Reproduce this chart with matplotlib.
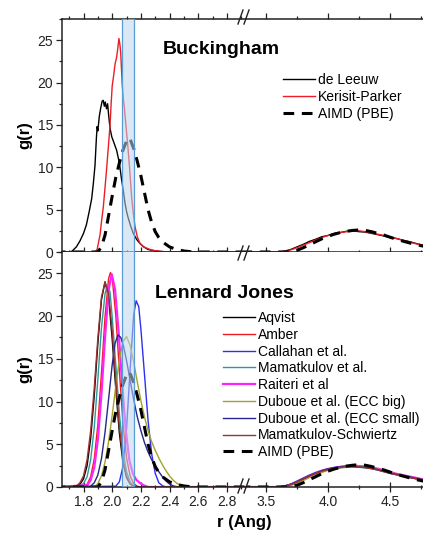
import matplotlib
matplotlib.use("Agg")
import matplotlib.pyplot as plt
import matplotlib.ticker as ticker
from matplotlib.lines import Line2D

plt.rcParams['font.family'] = ['Liberation Sans', 'DejaVu Sans']

# ---- first coordination shell, Buckingham models ----
deleeuw_r = [1.70, 1.72, 1.75, 1.775, 1.80, 1.82, 1.84, 1.857, 1.868, 1.88, 1.89, 1.895,
             1.90, 1.91, 1.92, 1.93, 1.938, 1.945, 1.952, 1.96, 1.968, 1.975, 1.985,
             1.997, 2.01, 2.031, 2.045, 2.054, 2.065, 2.077, 2.089, 2.10, 2.112, 2.13,
             2.147, 2.17, 2.194, 2.22, 2.25, 2.30, 2.35, 2.40]
deleeuw_g = [0, 0.1, 0.6, 1.3, 2.2, 3.2, 4.8, 6.3, 8.0, 10.2, 13.5, 14.8,
             14.3, 16.0, 17.0, 17.8, 17.9, 17.2, 17.7, 16.9, 17.5, 16.2, 14.6,
             13.6, 13.0, 12.0, 10.9, 10.0, 8.6, 7.3, 5.8, 4.8, 4.0, 3.0,
             2.2, 1.5, 1.0, 0.6, 0.3, 0.12, 0.05, 0]

kp_r = [1.88, 1.895, 1.915, 1.927, 1.938, 1.95, 1.962, 1.975, 1.985, 1.993, 2.0, 2.01,
        2.02, 2.03, 2.038, 2.047, 2.053, 2.059, 2.065, 2.07, 2.078, 2.085, 2.092, 2.101,
        2.11, 2.12, 2.128, 2.136, 2.147, 2.159, 2.175, 2.194, 2.22, 2.264, 2.30, 2.35, 2.40]
kp_g = [0, 0.3, 2.0, 3.8, 5.3, 7.6, 10.0, 12.8, 15.0, 17.6, 19.6, 20.8,
        22.2, 22.9, 23.9, 25.2, 24.6, 23.6, 21.5, 19.8, 18.0, 17.0, 15.6, 14.0,
        12.3, 10.2, 8.3, 6.4, 4.6, 3.0, 1.8, 1.0, 0.6, 0.3, 0.15, 0.05, 0]

aimd_r = [1.90, 1.925, 1.95, 1.975, 2.0, 2.025, 2.05, 2.075, 2.10, 2.115, 2.13, 2.15,
          2.175, 2.20, 2.225, 2.25, 2.275, 2.30, 2.325, 2.35, 2.40, 2.45, 2.50, 2.55, 2.60]
aimd_g = [0, 0.6, 2.0, 4.3, 6.6, 8.8, 10.5, 12.0, 13.1, 13.5, 13.1, 12.2,
          10.7, 9.0, 7.0, 5.0, 3.5, 2.4, 1.7, 1.2, 0.6, 0.3, 0.12, 0.03, 0]

# ---- first coordination shell, Lennard-Jones models ----
aqvist_r = [1.75, 1.775, 1.80, 1.825, 1.85, 1.875, 1.90, 1.925, 1.95, 1.975, 2.0, 2.025,
            2.05, 2.075, 2.10, 2.125, 2.15, 2.175]
aqvist_g = [0.05, 0.3, 0.95, 2.5, 5.7, 10.7, 16.8, 21.9, 24.0, 22.2, 17.3, 11.5,
            6.3, 2.9, 1.1, 0.35, 0.1, 0]

amber_r = [1.80, 1.825, 1.85, 1.875, 1.90, 1.925, 1.95, 1.975, 1.988, 2.0, 2.025, 2.05,
           2.075, 2.10, 2.125, 2.15, 2.175, 2.20]
amber_g = [0.07, 0.3, 1.2, 3.3, 7.3, 13.3, 19.9, 24.4, 25.1, 24.5, 20.1, 13.6,
           7.5, 3.4, 1.3, 0.4, 0.1, 0]

callahan_r = [2.025, 2.05, 2.075, 2.10, 2.125, 2.15, 2.167, 2.185, 2.20, 2.225, 2.25,
              2.275, 2.30, 2.325, 2.35, 2.375]
callahan_g = [0.1, 0.6, 2.4, 6.8, 13.8, 20.2, 21.8, 21.1, 18.5, 13.2, 7.8,
              3.9, 1.6, 0.5, 0.15, 0]

mamat_r = [1.775, 1.80, 1.825, 1.85, 1.875, 1.90, 1.925, 1.95, 1.966, 1.985, 2.0, 2.025,
           2.05, 2.075, 2.10, 2.125, 2.15, 2.175]
mamat_g = [0.1, 0.4, 1.2, 3.2, 7.0, 12.6, 18.6, 22.6, 23.6, 22.8, 19.9, 14.3,
           8.6, 4.3, 1.8, 0.6, 0.15, 0]

raiteri_r = [1.825, 1.85, 1.875, 1.90, 1.925, 1.95, 1.975, 1.997, 2.02, 2.045, 2.07,
             2.095, 2.12, 2.145, 2.17, 2.195, 2.22, 2.25]
raiteri_g = [0.2, 0.8, 2.3, 5.5, 10.9, 17.5, 23.1, 24.9, 23.1, 18.1, 11.9,
             6.6, 3.1, 1.5, 0.8, 0.45, 0.2, 0]

eccbig_r = [1.875, 1.90, 1.925, 1.95, 1.975, 2.0, 2.025, 2.05, 2.075, 2.10, 2.125, 2.15,
            2.175, 2.20, 2.225, 2.25, 2.275, 2.30, 2.325, 2.35, 2.375, 2.40, 2.425,
            2.45, 2.475, 2.50]
eccbig_g = [0, 0.4, 1.3, 2.9, 5.3, 8.4, 11.8, 14.9, 17.0, 17.6, 16.6, 14.6,
            12.3, 10.1, 8.2, 6.6, 5.3, 4.3, 3.4, 2.6, 1.9, 1.3, 0.8,
            0.45, 0.2, 0]

eccsmall_r = [1.85, 1.875, 1.90, 1.925, 1.95, 1.975, 2.0, 2.02, 2.04, 2.06, 2.08, 2.10,
              2.125, 2.15, 2.175, 2.20, 2.225, 2.25, 2.275, 2.30, 2.325, 2.35, 2.375,
              2.40, 2.43, 2.46]
eccsmall_g = [0.1, 0.5, 1.4, 3.3, 6.4, 10.3, 14.3, 16.8, 17.8, 17.5, 16.4, 14.8,
              12.5, 10.2, 8.2, 6.6, 5.2, 4.1, 3.2, 2.4, 1.8, 1.2, 0.7,
              0.35, 0.1, 0]

ms_r = [1.75, 1.775, 1.80, 1.825, 1.85, 1.875, 1.90, 1.925, 1.95, 1.975, 2.0, 2.025,
        2.05, 2.075, 2.10, 2.125, 2.15, 2.175]
ms_g = [0.1, 0.5, 1.3, 3.2, 6.6, 11.6, 17.4, 22.2, 24.0, 22.6, 18.2, 12.4,
        7.0, 3.3, 1.3, 0.4, 0.1, 0]

# ---- second coordination shell (common r grid) ----
shell2_r = [3.60, 3.65, 3.70, 3.75, 3.80, 3.85, 3.90, 3.95, 4.00, 4.05, 4.10, 4.15, 4.20,
            4.25, 4.30, 4.35, 4.40, 4.45, 4.50, 4.55, 4.60, 4.65, 4.70, 4.75, 4.80]
deleeuw_g2 = [0, 0.1, 0.3, 0.6, 0.9, 1.25, 1.5, 1.8, 1.95, 2.2, 2.3, 2.45, 2.5,
              2.4, 2.35, 2.2, 2.05, 1.9, 1.7, 1.6, 1.4, 1.25, 1.05, 0.85, 0.7]
kp_g2 = [0, 0.08, 0.25, 0.5, 0.8, 1.1, 1.4, 1.7, 1.95, 2.15, 2.3, 2.4, 2.45,
         2.5, 2.4, 2.25, 2.1, 1.95, 1.8, 1.6, 1.4, 1.2, 1.0, 0.85, 0.7]
aimd_g2 = [0, 0, 0.05, 0.2, 0.5, 0.85, 1.2, 1.55, 1.85, 2.1, 2.3, 2.45, 2.55,
           2.6, 2.55, 2.4, 2.2, 2.0, 1.75, 1.5, 1.3, 1.1, 0.9, 0.75, 0.6]
aqvist_g2 = [0, 0.1, 0.3, 0.6, 0.95, 1.3, 1.6, 1.85, 2.05, 2.2, 2.3, 2.35, 2.4,
             2.35, 2.3, 2.2, 2.05, 1.85, 1.65, 1.45, 1.3, 1.15, 1.0, 0.85, 0.7]
amber_g2 = [0, 0.1, 0.3, 0.6, 0.95, 1.3, 1.6, 1.9, 2.1, 2.25, 2.35, 2.45, 2.45,
            2.4, 2.3, 2.2, 2.05, 1.9, 1.7, 1.5, 1.35, 1.2, 1.05, 0.9, 0.75]
callahan_g2 = [0, 0.12, 0.35, 0.7, 1.05, 1.4, 1.7, 1.95, 2.15, 2.3, 2.4, 2.45, 2.45,
               2.4, 2.3, 2.15, 2.0, 1.8, 1.6, 1.45, 1.3, 1.15, 1.0, 0.85, 0.7]
mamat_g2 = [0, 0.1, 0.3, 0.6, 0.9, 1.25, 1.55, 1.8, 2.0, 2.15, 2.25, 2.3, 2.35,
            2.3, 2.25, 2.15, 2.0, 1.8, 1.6, 1.45, 1.3, 1.15, 1.0, 0.85, 0.7]
raiteri_g2 = [0, 0.08, 0.25, 0.55, 0.9, 1.25, 1.55, 1.85, 2.05, 2.2, 2.35, 2.45, 2.5,
              2.45, 2.4, 2.3, 2.15, 1.95, 1.75, 1.55, 1.4, 1.25, 1.1, 0.95, 0.8]
eccbig_g2 = [0, 0.05, 0.2, 0.45, 0.75, 1.1, 1.4, 1.7, 1.95, 2.1, 2.25, 2.35, 2.4,
             2.4, 2.35, 2.25, 2.1, 1.9, 1.7, 1.5, 1.35, 1.2, 1.05, 0.9, 0.75]
eccsmall_g2 = [0, 0.1, 0.3, 0.6, 0.95, 1.3, 1.6, 1.9, 2.1, 2.25, 2.35, 2.4, 2.4,
               2.35, 2.3, 2.2, 2.05, 1.85, 1.65, 1.5, 1.35, 1.2, 1.05, 0.9, 0.75]
ms_g2 = [0, 0.1, 0.3, 0.6, 0.95, 1.3, 1.6, 1.85, 2.05, 2.2, 2.3, 2.4, 2.4,
         2.35, 2.25, 2.15, 2.0, 1.8, 1.6, 1.45, 1.3, 1.15, 1.0, 0.85, 0.7]

band = (2.07, 2.155)

buck_series = [
    ("de Leeuw", deleeuw_r, deleeuw_g, deleeuw_g2, "black", 1.0, "-"),
    ("Kerisit-Parker", kp_r, kp_g, kp_g2, "#ee1c24", 1.0, "-"),
    ("AIMD (PBE)", aimd_r, aimd_g, aimd_g2, "black", 2.2, "--"),
]
lj_series = [
    ("Aqvist", aqvist_r, aqvist_g, aqvist_g2, "black", 1.0, "-"),
    ("Amber", amber_r, amber_g, amber_g2, "#ee1c24", 1.0, "-"),
    ("Callahan et al.", callahan_r, callahan_g, callahan_g2, "#2e2ef2", 1.0, "-"),
    ("Mamatkulov et al.", mamat_r, mamat_g, mamat_g2, "#2b9a9a", 1.0, "-"),
    ("Raiteri et al", raiteri_r, raiteri_g, raiteri_g2, "#ff22ff", 1.6, "-"),
    ("Duboue et al. (ECC big)", eccbig_r, eccbig_g, eccbig_g2, "#a3a32a", 1.0, "-"),
    ("Duboue et al. (ECC small)", eccsmall_r, eccsmall_g, eccsmall_g2, "#26268c", 1.0, "-"),
    ("Mamatkulov-Schwiertz", ms_r, ms_g, ms_g2, "#9c2f2f", 1.0, "-"),
    ("AIMD (PBE)", aimd_r, aimd_g, aimd_g2, "black", 2.2, "--"),
]

W, H = 423, 540
fig = plt.figure(figsize=(W / 100, H / 100), dpi=100)


def px_rect(x0, x1, y0, y1):
    return [x0 / W, 1 - y1 / H, (x1 - x0) / W, (y1 - y0) / H]


XL, XB, XR = 62, 246, 423
YT, YM, YB = 19, 252, 487
SPINE = '#222222'
LEFT_LIM = (1.65, 2.933)
RIGHT_LIM = (3.339, 4.766)


def style(ax, side, panel):
    ax.set_ylim(0, 27.5)
    for s in ax.spines.values():
        s.set_color(SPINE)
        s.set_linewidth(1.1)
    ax.spines['right'].set_visible(False)
    if side == 'left':
        ax.set_xlim(*LEFT_LIM)
        major, minor = 0.2, 0.1
        ax.yaxis.set_major_locator(ticker.MultipleLocator(5))
        ax.yaxis.set_minor_locator(ticker.MultipleLocator(2.5))
        ax.tick_params(axis='y', which='major', direction='out', length=4.5, width=0.9,
                       labelsize=10, colors=SPINE, pad=2)
        ax.tick_params(axis='y', which='minor', direction='out', length=2.5, width=0.9,
                       colors=SPINE)
    else:
        ax.set_xlim(*RIGHT_LIM)
        major, minor = 0.5, 0.25
        ax.spines['left'].set_visible(False)
        ax.tick_params(axis='y', which='both', left=False, labelleft=False)
    ax.xaxis.set_major_locator(ticker.MultipleLocator(major))
    ax.xaxis.set_minor_locator(ticker.MultipleLocator(minor))
    ax.xaxis.set_major_formatter(ticker.FormatStrFormatter('%.1f'))
    ax.tick_params(axis='x', which='major', direction='inout', length=7, width=0.9,
                   labelsize=10, colors=SPINE, pad=2, top=False)
    ax.tick_params(axis='x', which='minor', direction='inout', length=3.5, width=0.9,
                   colors=SPINE, top=False)
    if panel == 'top':
        ax.tick_params(axis='x', which='both', labelbottom=False)
    else:
        ax.spines['top'].set_visible(False)
    if side == 'left':
        ax.axvspan(band[0], band[1], facecolor='#bcd6ee', alpha=0.55, lw=0, zorder=3)
        for b in band:
            ax.axvline(b, color='#5b9bd5', lw=0.9, zorder=3.1)


def top_ticks(rect, lim, major, minor):
    # frame-less overlay carrying the outward ticks of the top edge
    tw = fig.add_axes(rect, zorder=5)
    tw.patch.set_visible(False)
    tw.set_xlim(*lim)
    tw.xaxis.tick_top()
    tw.xaxis.set_major_locator(ticker.MultipleLocator(major))
    tw.xaxis.set_minor_locator(ticker.MultipleLocator(minor))
    tw.tick_params(axis='x', which='major', direction='out', length=4, width=0.9,
                   colors=SPINE, labeltop=False)
    tw.tick_params(axis='x', which='minor', direction='out', length=2.5, width=0.9,
                   colors=SPINE)
    tw.tick_params(axis='y', which='both', left=False, labelleft=False)
    for name, s in tw.spines.items():
        s.set_visible(False)


def draw(ax, series):
    handles = []
    for label, r1, g1, g2, color, lw, ls in series:
        r = [1.6] + r1 + shell2_r
        g = [0.0] + g1 + g2
        line, = ax.plot(r, g, color=color, lw=lw, ls=ls, label=label)
        if ls == '--':
            line.set_dashes((3.5, 2.5))
        handles.append(line)
    return handles


top_l = fig.add_axes(px_rect(XL, XB, YT, YM))
top_r = fig.add_axes(px_rect(XB, XR, YT, YM))
bot_l = fig.add_axes(px_rect(XL, XB, YM, YB))
bot_r = fig.add_axes(px_rect(XB, XR, YM, YB))

buck_handles = draw(top_l, buck_series)
draw(top_r, buck_series)
lj_handles = draw(bot_l, lj_series)
draw(bot_r, lj_series)

style(top_l, 'left', 'top')
style(top_r, 'right', 'top')
style(bot_l, 'left', 'bottom')
style(bot_r, 'right', 'bottom')

top_ticks(px_rect(XL, XB, YT, YM), LEFT_LIM, 0.2, 0.1)
top_ticks(px_rect(XB, XR, YT, YM), RIGHT_LIM, 0.5, 0.25)

fig.legend(handles=buck_handles, loc='upper left', bbox_to_anchor=(283 / W, 1 - 73 / H),
           frameon=False, fontsize=10, handlelength=2.3, handletextpad=0.2,
           labelspacing=0.2, borderpad=0, borderaxespad=0)
fig.legend(handles=lj_handles, loc='upper left', bbox_to_anchor=(223 / W, 1 - 311 / H),
           frameon=False, fontsize=10, handlelength=2.3, handletextpad=0.2,
           labelspacing=0.2, borderpad=0, borderaxespad=0)

fig.text(163 / W, 1 - 50 / H, "Buckingham", fontsize=14, fontweight='bold',
         ha='left', va='center')
fig.text(155 / W, 1 - 293 / H, "Lennard Jones", fontsize=14, fontweight='bold',
         ha='left', va='center')
for yc in ((YT + YM) / 2, (YM + YB) / 2):
    fig.text(25 / W, 1 - yc / H, "g(r)", fontsize=12, fontweight='bold',
             rotation=90, ha='center', va='center')
fig.text(244 / W, 1 - 522 / H, "r (Ang)", fontsize=12, fontweight='bold',
         ha='center', va='center')

# axis-break marks on each horizontal axis line
for yc in (17, YM + 1, YB - 1):
    for x0 in (238, 244):
        fig.add_artist(Line2D([x0 / W, (x0 + 5) / W], [1 - (yc + 7) / H, 1 - (yc - 7) / H],
                              transform=fig.transFigure, color=SPINE, lw=1.0))

fig.savefig("out.png", dpi=100)
